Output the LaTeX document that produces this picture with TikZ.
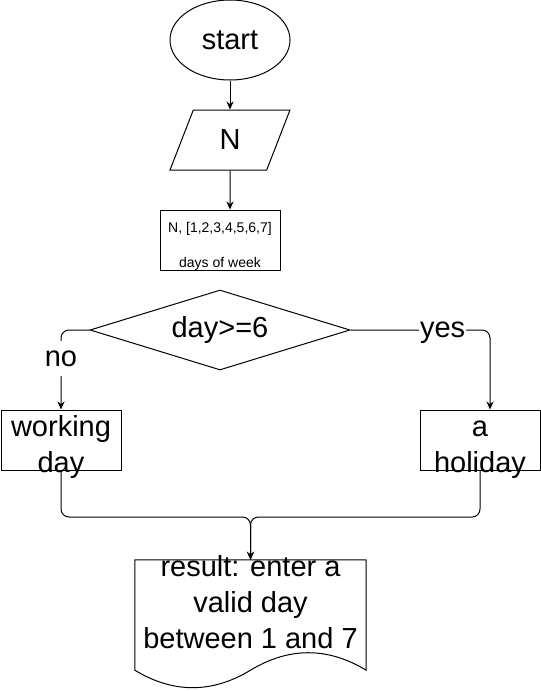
\documentclass[tikz,border=0pt]{standalone}
\usepackage{fontspec}
\setmainfont{Liberation Sans}
\usepackage{tikz}
\usetikzlibrary{shapes.geometric,arrows.meta}

\tikzset{
	box/.style={draw, line width=1pt, inner sep=0pt, font=\fontsize{29}{36}\selectfont},
	terminal/.style={box, ellipse, minimum width=120pt, minimum height=80pt},
	io/.style={box, trapezium, trapezium left angle=71.57, trapezium right angle=108.43, trapezium stretches=true, minimum width=120pt, minimum height=60pt},
	process/.style={box, rectangle, minimum width=120pt, minimum height=60pt},
	decision/.style={box, diamond, aspect=3.25, minimum width=260pt, minimum height=80pt},
	doc/.style={rectangle, inner sep=0pt, minimum width=231pt, minimum height=110pt},
	txt/.style={font=\fontsize{29}{36}\selectfont, align=center, inner sep=0pt},
	note/.style={font=\fontsize{14}{16}\selectfont, align=center, inner sep=0pt},
	tag/.style={fill=white, font=\fontsize{29}{36}\selectfont, inner xsep=1pt, inner ysep=0pt, text height=25pt, text depth=10pt},
	flow/.style={line width=1pt, rounded corners=8pt, -{Stealth[length=8pt, width=7pt]}}
}

\begin{document}
\begin{tikzpicture}[x=1pt, y=-1pt]
		
		\useasboundingbox (0,0) rectangle (541,691);
		
		\node[terminal] (start) at (230,40) {start};
		
		\node[io] (num) at (230,140) {N};
		
		\node[process, label={[note, yshift=-6pt]center:N, [1,2,3,4,5,6,7]\\[19pt]days of week}] (days) at (220,240) {};
		
		\node[decision] (check) at (220,330) {day>=6};
		
		\node[process, label={[txt, yshift=-6.6pt]center:working\\day}] (work) at (61,440) {};
		
		\node[process, label={[txt, yshift=-9.3pt]center:a\\holiday}] (hol) at (480,440) {};
		
		\node[doc, label={[txt, yshift=12.4pt]center:{result: enter a\\valid day\\between 1 and 7}}] (res) at (250.5,615) {};
		
		\coordinate (join) at (250.5,517);
		
		\draw (start) edge[flow] (num)
		(num) edge[flow] (num.south |- days.north);
		
		\draw[flow] (check.west) -| node[tag, pos=0.68] {no} (work.north);
		\draw[flow] (check.east) -| node[tag, pos=0.33] {yes} ([xshift=10pt]hol.north);
		
		\draw[flow] (work.south) |- (join) -- (res.north);
		\draw[flow] (hol.south) |- (join) -- (res.north);
		
		% document shape with wavy bottom
		\draw[line width=1pt] (res.north west) -- (res.north east) -- (res.south east)
		.. controls +(-38.5,-23.3) and +(38.5,-23.3) .. (res.south)
		.. controls +(-38.5,23.3) and +(38.5,23.3) .. (res.south west) -- cycle;
		
	\end{tikzpicture}
\end{document}
